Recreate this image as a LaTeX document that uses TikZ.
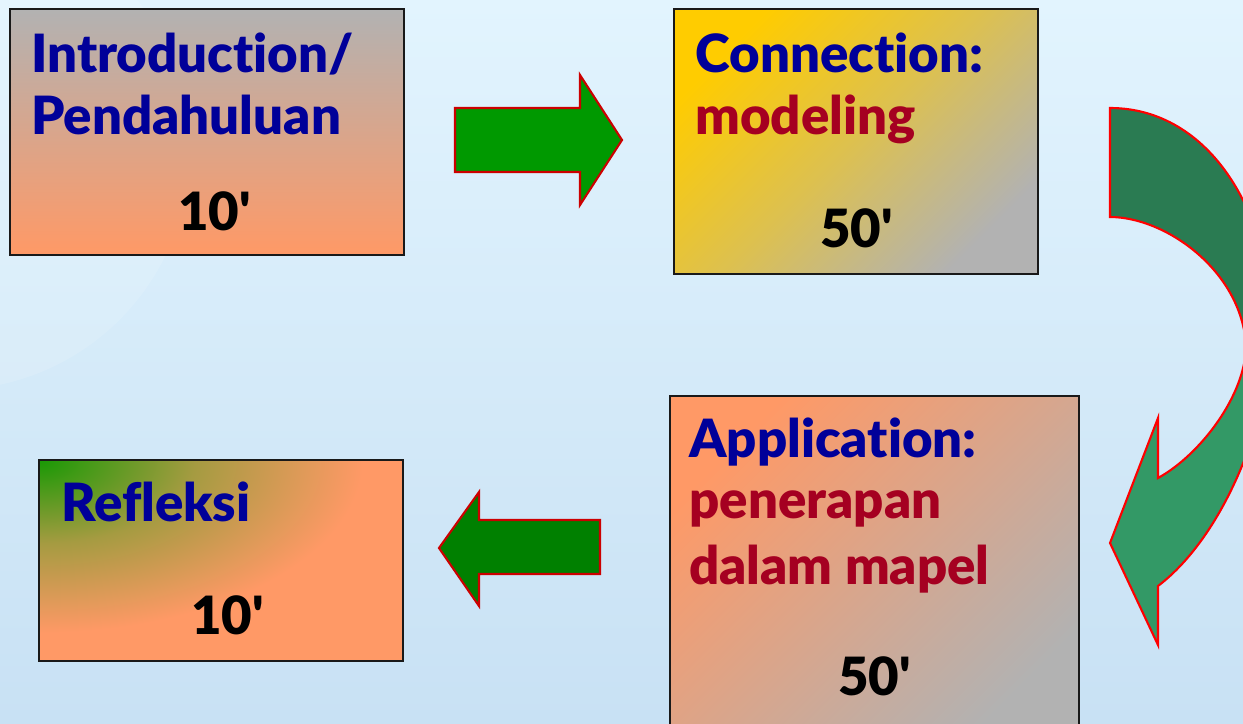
\documentclass[tikz,border=0pt]{standalone}
\usepackage{fontspec}
\newfontfamily\gill{Lato Black}[Ligatures=CommonOff]
\definecolor{bgtop}{RGB}{226,244,254}
\definecolor{bgbot}{RGB}{200,225,244}
\definecolor{txtblue}{RGB}{0,0,153}
\definecolor{txtred}{RGB}{165,0,33}
\definecolor{orng}{RGB}{255,153,102}
\definecolor{gry}{RGB}{178,178,178}
\definecolor{yel}{RGB}{255,204,0}
\definecolor{grn}{RGB}{25,153,5}
\definecolor{olive}{RGB}{165,155,65}
\definecolor{arrowA}{RGB}{0,153,0}
\definecolor{arrowB}{RGB}{0,128,0}
\definecolor{curvdark}{RGB}{42,123,82}
\definecolor{curvlight}{RGB}{51,153,102}
\definecolor{arrowline}{RGB}{204,0,0}
\pgfdeclareradialshading{cornerglow}{\pgfpoint{0bp}{0bp}}{color(0bp)=(grn); color(6.5bp)=(olive); color(13.5bp)=(orng); color(50bp)=(orng)}
\tikzset{
  box/.style={draw=black!90, line width=1.2pt, rectangle, inner sep=0pt},
  lbl/.style={anchor=base west, inner sep=0pt, font=\gill\fontsize{30}{36}\selectfont},
  blockarrow/.style={draw=arrowline, line width=1.2pt, line join=miter}
}
\begin{document}
\begin{tikzpicture}[x=0.02cm,y=-0.02cm]
\useasboundingbox (0,0) rectangle (1243,723);
\clip (0,0) rectangle (1243,723);
% background
\shade[top color=bgtop, bottom color=bgbot] (0,0) rectangle (1243,723);
\fill[white, opacity=0.12] (-50,150) circle [radius=4.8cm];

% boxes
\node[box, minimum width=7.88cm, minimum height=4.92cm, top color=gry, bottom color=orng] (b1) at (207,132) {};
\node[box, minimum width=7.28cm, minimum height=5.30cm, top color=yel, bottom color=gry, middle color=yel!55!gry, shading angle=45] (b2) at (856,141.5) {};
\node[box, minimum width=8.18cm, minimum height=6.88cm, top color=orng, bottom color=gry, shading angle=45] (b3) at (874.5,568) {};
\node[box, minimum width=7.28cm, minimum height=4.02cm, fill=orng,
  path picture={\shade[shading=cornerglow] (path picture bounding box.north west) ellipse [x radius=12cm, y radius=6.4cm];}] (b4) at (221,560.5) {};

% texts
\node[lbl, text=txtblue] (t1a) at (31,72) {Introduction/};
\node[lbl, text=txtblue] (t1b) at (31,134) {Pendahuluan};
\node[lbl, text=black] (t1c) at (178,230) {10'};

\node[lbl, text=txtblue] (t2a) at (695,72) {Connection:};
\node[lbl, text=txtred] (t2b) at (695,134) {modeling};
\node[lbl, text=black] (t2c) at (820,247) {50'};

\node[lbl, text=txtblue] (t3a) at (689,457) {Application:};
\node[lbl, text=txtred] (t3b) at (689,518) {penerapan};
\node[lbl, text=txtred] (t3c) at (689,584) {dalam mapel};
\node[lbl, text=black] (t3d) at (838,695) {50'};

\node[lbl, text=txtblue] (t4a) at (61,521) {Refleksi};
\node[lbl, text=black] (t4b) at (191,634) {10'};

% straight block arrows
\draw[blockarrow, fill=arrowA] (455,108) -- (580,108) -- (580,75) -- (622,140) -- (580,205) -- (580,172) -- (455,172) -- cycle;
\draw[blockarrow, fill=arrowB] (600,520) -- (479,520) -- (479,492) -- (439,548) -- (479,606) -- (479,574) -- (600,574) -- cycle;

% curved arrow
\def\curvedpath{(1110,108) .. controls (1210,108) and (1275,215) .. (1272,340) .. controls (1268,420) and (1225,535) .. (1158,586) -- (1158,645) -- (1110,543) -- (1158,418) -- (1158,478) .. controls (1200,455) and (1246,395) .. (1246,345) .. controls (1241,270) and (1165,217) .. (1110,217) -- cycle}
\fill[curvlight] \curvedpath;
\begin{scope}
  \clip (1000,0) rectangle (1300,345);
  \fill[curvdark] \curvedpath;
\end{scope}
\draw[red, line width=1.2pt, line join=miter] \curvedpath;
\end{tikzpicture}
\end{document}
